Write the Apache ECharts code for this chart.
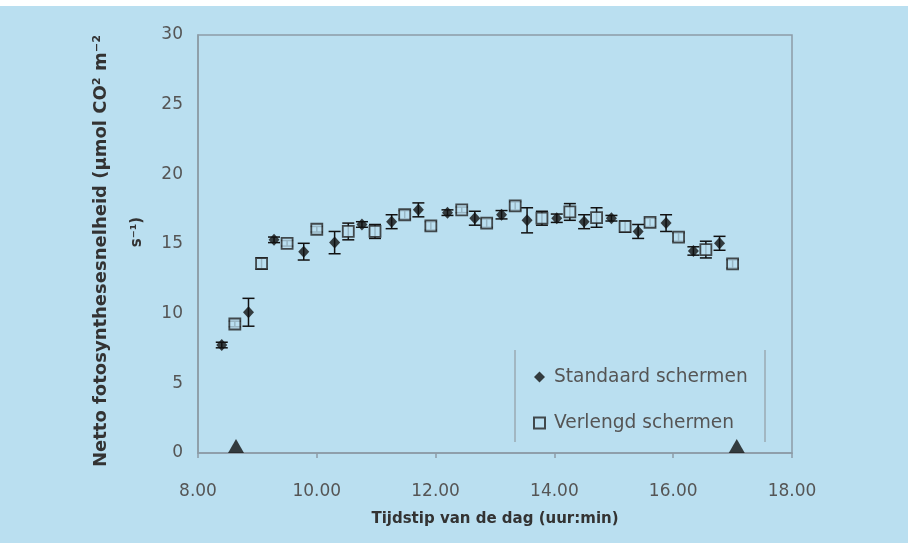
<!DOCTYPE html>
<html>
<head>
<meta charset="utf-8">
<script src="https://cdn.jsdelivr.net/npm/echarts@6/dist/echarts.min.js"></script>
<style>
html,body{margin:0;padding:0;background:#ffffff;}
#wrap{position:absolute;left:0;top:6px;width:908px;height:537px;background:#badff0;}
#chart{position:absolute;left:0;top:-6px;width:908px;height:543px;}
</style>
</head>
<body>
<div id="wrap"><div id="chart"></div></div>
<script>
// Standaard schermen (filled diamonds)
const stdTime  = [8.40, 8.85, 9.28, 9.78, 10.30, 10.76, 11.26, 11.71, 12.20, 12.66, 13.11, 13.54, 14.04, 14.50, 14.96, 15.41, 15.88, 16.34, 16.78];
const stdValue = [7.75, 10.1, 15.3, 14.45, 15.1, 16.4, 16.6, 17.45, 17.25, 16.85, 17.1, 16.7, 16.85, 16.6, 16.85, 15.9, 16.5, 14.5, 15.05];
const stdError = [0.2, 1.0, 0.2, 0.6, 0.8, 0.2, 0.5, 0.5, 0.2, 0.5, 0.3, 0.9, 0.3, 0.5, 0.2, 0.5, 0.6, 0.3, 0.5];
// Verlengd schermen (open squares)
const verTime  = [8.62, 9.07, 9.50, 10.00, 10.53, 10.98, 11.48, 11.92, 12.44, 12.86, 13.34, 13.79, 14.26, 14.71, 15.19, 15.61, 16.09, 16.55, 17.00];
const verValue = [9.26, 13.6, 15.05, 16.06, 15.9, 15.9, 17.1, 16.3, 17.45, 16.5, 17.73, 16.85, 17.3, 16.9, 16.25, 16.55, 15.5, 14.6, 13.57];
const verError = [0.2, 0.4, 0.2, 0.2, 0.6, 0.5, 0.3, 0.3, 0.2, 0.3, 0.3, 0.5, 0.6, 0.7, 0.4, 0.3, 0.3, 0.6, 0.3];
// Screen markers (triangles on the x axis)
const screenTime  = [8.64, 17.07];
const screenValue = [0, 0];
// Axis settings
const xMin = 8, xMax = 18, xStep = 2;
const yMin = 0, yMax = 30, yStep = 5;
const seriesNames = ['Standaard schermen', 'Verlengd schermen'];
const xTitle = 'Tijdstip van de dag (uur:min)';
const yTitleLine1 = 'Netto fotosynthesesnelheid (µmol CO² m⁻²';
const yTitleLine2 = 's⁻¹)';

const BG = '#badff0';
const FONT = 'DejaVu Sans';

function pairs(xs, ys) { return xs.map((x, i) => [x, ys[i]]); }
function errs(xs, ys, es) { return xs.map((x, i) => [x, ys[i] - es[i], ys[i] + es[i]]); }

function errRender(params, api) {
  const x = api.value(0);
  const lo = api.coord([x, api.value(1)]);
  const hi = api.coord([x, api.value(2)]);
  const w = 6;
  const st = { stroke: '#111', lineWidth: 1.5 };
  return {
    type: 'group',
    children: [
      { type: 'line', shape: { x1: lo[0], y1: lo[1], x2: hi[0], y2: hi[1] }, style: st },
      { type: 'line', shape: { x1: lo[0] - w, y1: lo[1], x2: lo[0] + w, y2: lo[1] }, style: st },
      { type: 'line', shape: { x1: hi[0] - w, y1: hi[1], x2: hi[0] + w, y2: hi[1] }, style: st }
    ]
  };
}

const chart = echarts.init(document.getElementById('chart'), null, { renderer: 'canvas' });
const axisColor = '#8d9ca6';
chart.setOption({
  backgroundColor: 'transparent',
  animation: false,
  grid: { left: 198, right: 116, top: 35, bottom: 90, show: true, borderColor: axisColor, borderWidth: 1.5, backgroundColor: 'transparent' },
  xAxis: {
    type: 'value', min: xMin, max: xMax, interval: xStep,
    axisLine: { show: true, lineStyle: { color: axisColor, width: 1.5 } },
    axisTick: { show: true, length: 5, lineStyle: { color: axisColor, width: 1.5 } },
    splitLine: { show: false },
    axisLabel: { margin: 30, fontFamily: FONT, fontSize: 17, color: '#555', formatter: v => v.toFixed(2) }
  },
  yAxis: {
    type: 'value', min: yMin, max: yMax, interval: yStep,
    axisLine: { show: true, lineStyle: { color: axisColor, width: 1.5 } },
    axisTick: { show: false },
    splitLine: { show: false },
    axisLabel: { margin: 15, fontFamily: FONT, fontSize: 17, color: '#555' }
  },
  legend: {
    data: seriesNames,
    orient: 'vertical', left: 528, top: 362,
    itemWidth: 11, itemHeight: 11, itemGap: 26,
    textStyle: { fontFamily: FONT, fontSize: 18.6, color: '#555', lineHeight: 20, padding: [0, 0, 0, 4] }
  },
  graphic: [
    { type: 'line', shape: { x1: 515, y1: 350, x2: 515, y2: 442 }, style: { stroke: '#9aaab3', lineWidth: 1.5 } },
    { type: 'line', shape: { x1: 765, y1: 350, x2: 765, y2: 442 }, style: { stroke: '#9aaab3', lineWidth: 1.5 } },
    { type: 'text', x: 101, y: 251, rotation: Math.PI / 2, style: { text: yTitleLine1, font: 'bold 18px "DejaVu Sans"', fill: '#333', align: 'center', verticalAlign: 'middle' } },
    { type: 'text', x: 137, y: 232, rotation: Math.PI / 2, style: { text: yTitleLine2, font: 'bold 15px "DejaVu Sans"', fill: '#333', align: 'center', verticalAlign: 'middle' } },
    { type: 'text', x: 495, y: 519, style: { text: xTitle, font: 'bold 15px "DejaVu Sans"', fill: '#333', align: 'center', verticalAlign: 'middle' } }
  ],
  series: [
    { type: 'custom', renderItem: errRender, data: errs(stdTime, stdValue, stdError), encode: { x: 0, y: [1, 2] }, z: 2, silent: true },
    { type: 'custom', renderItem: errRender, data: errs(verTime, verValue, verError), encode: { x: 0, y: [1, 2] }, z: 2, silent: true },
    { name: seriesNames[0], type: 'scatter', data: pairs(stdTime, stdValue), symbol: 'diamond', symbolSize: [11, 12], itemStyle: { color: '#111' }, z: 4 },
    { name: seriesNames[1], type: 'scatter', data: pairs(verTime, verValue), symbol: 'rect', symbolSize: 11, itemStyle: { color: BG, borderColor: '#222', borderWidth: 1.8 }, z: 3 },
    { type: 'scatter', data: pairs(screenTime, screenValue), symbol: 'triangle', symbolSize: [16, 14], symbolOffset: [0, -7], itemStyle: { color: '#111' }, z: 5, silent: true }
  ]
});
</script>
</body>
</html>
